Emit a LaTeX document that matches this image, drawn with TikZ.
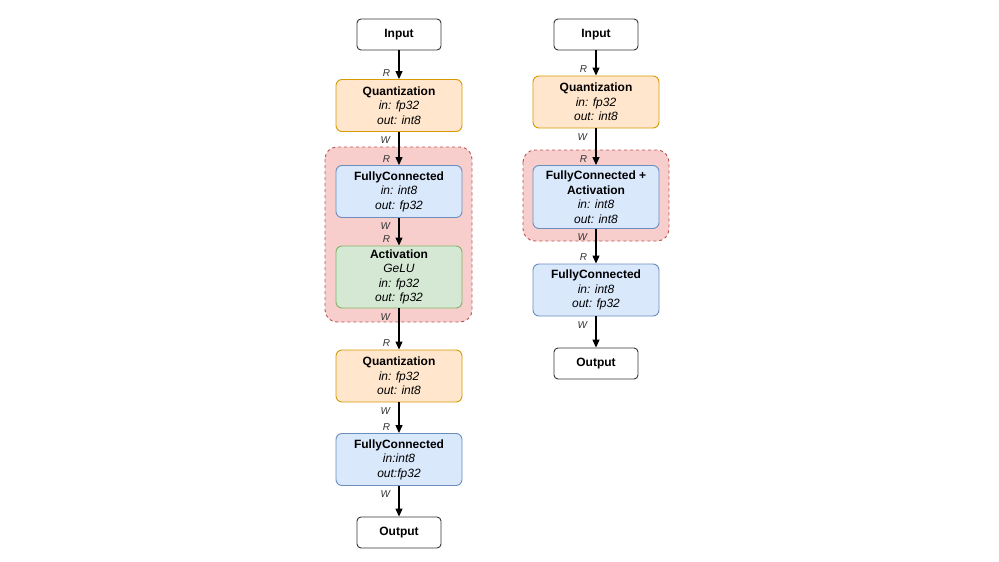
\documentclass[tikz,border=0pt]{standalone}
\usepackage{fontspec}
\setmainfont{Liberation Sans}
\usetikzlibrary{arrows.meta}
\definecolor{quantfill}{HTML}{FFE6CC}
\definecolor{quantdraw}{HTML}{D79B00}
\definecolor{fcfill}{HTML}{DAE8FC}
\definecolor{fcdraw}{HTML}{6C8EBF}
\definecolor{actfill}{HTML}{D5E8D4}
\definecolor{actdraw}{HTML}{82B366}
\definecolor{grpfill}{HTML}{F8CECC}
\definecolor{grpdraw}{HTML}{B85450}
\tikzset{
  box/.style={draw, rounded corners=6pt, line width=0.9pt, align=center,
    inner sep=0pt, minimum width=126pt, font=\fontsize{12}{14.5}\selectfont},
  iobox/.style={box, draw=black!80, fill=white, minimum width=84pt,
    minimum height=31pt, rounded corners=4pt},
  quantbox/.style={box, fill=quantfill, draw=quantdraw, minimum height=52pt},
  fcbox/.style={box, fill=fcfill, draw=fcdraw, minimum height=52pt},
  actbox/.style={box, fill=actfill, draw=actdraw, minimum height=62pt},
  grpbox/.style={draw=grpdraw, fill=grpfill, dashed, line width=0.9pt,
    rounded corners=12pt},
  flow/.style={-{Triangle[length=8pt,width=7pt]}, line width=1.2pt},
  rlbl/.style={font=\fontsize{10}{10}\selectfont\itshape, text=black!80,
    anchor=south east, xshift=-5pt, yshift=-1pt},
  wlbl/.style={font=\fontsize{10}{10}\selectfont\itshape, text=black!80,
    anchor=north east, xshift=-5pt, yshift=-1pt}
}
\begin{document}
\begin{tikzpicture}[x=1pt,y=-1pt]
  \useasboundingbox (0,0) rectangle (999,562);
  % groups
  \draw[grpbox] (325,147) rectangle (472,322);
  \draw[grpbox] (523,150) rectangle (669,241);
  % left: separate layers
  \node[iobox] (in1) at (399,34.5) {\textbf{Input}};
  \node[quantbox] (q1) at (399,105.5)
    {\textbf{Quantization}\\\textit{in: fp32}\\\textit{out: int8}};
  \node[fcbox] (fc1) at (399,191.5)
    {\textbf{FullyConnected}\\\textit{in: int8}\\\textit{out: fp32}};
  \node[actbox] (act1) at (399,277)
    {\textbf{Activation}\\\textit{GeLU}\\\textit{in: fp32}\\\textit{out: fp32}};
  \node[quantbox] (q2) at (399,376)
    {\textbf{Quantization}\\\textit{in: fp32}\\\textit{out: int8}};
  \node[fcbox] (fc2) at (399,459.5)
    {\textbf{FullyConnected}\\\textit{in:int8}\\\textit{out:fp32}};
  \node[iobox] (out1) at (399,532.5) {\textbf{Output}};
  % right: fused
  \node[iobox] (in2) at (596,34.5) {\textbf{Input}};
  \node[quantbox] (q3) at (596,102)
    {\textbf{Quantization}\\\textit{in: fp32}\\\textit{out: int8}};
  \node[fcbox, minimum height=63pt] (fca) at (596,197)
    {\textbf{FullyConnected +}\\\textbf{Activation}\\\textit{in: int8}\\\textit{out: int8}};
  \node[fcbox] (fc3) at (596,290)
    {\textbf{FullyConnected}\\\textit{in: int8}\\\textit{out: fp32}};
  \node[iobox] (out2) at (596,363.5) {\textbf{Output}};
  % connectors
  \draw[flow] (in1) -- (q1) node[rlbl, at end] {R};
  \foreach \a/\b in {q1/fc1, fc1/act1, act1/q2, q2/fc2, q3/fca, fca/fc3}
    \draw[flow] (\a) -- (\b) node[wlbl, at start] {W} node[rlbl, at end] {R};
  \draw[flow] (in2) -- (q3) node[rlbl, at end] {R};
  \draw[flow] (fc2) -- (out1) node[wlbl, at start] {W};
  \draw[flow] (fc3) -- (out2) node[wlbl, at start] {W};
\end{tikzpicture}
\end{document}
